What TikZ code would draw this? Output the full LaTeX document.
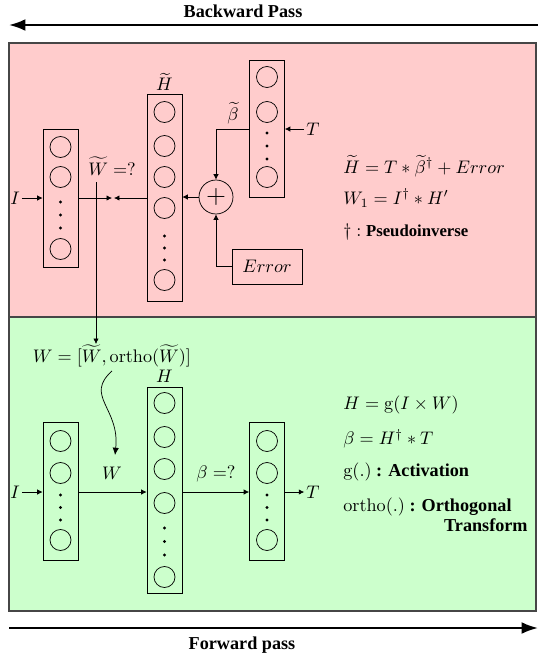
\documentclass[tikz,border=0pt]{standalone}
\usepackage[no-math]{fontspec}
\setmainfont{Liberation Serif}
\usetikzlibrary{arrows.meta}
\def\pu{0.55pt}
\definecolor{pinkbg}{RGB}{255,204,204}
\definecolor{greenbg}{RGB}{204,255,204}
\definecolor{frame}{RGB}{70,70,70}
\begin{document}
\begin{tikzpicture}[x=0.55pt,y=-0.55pt,
  colbox/.style={draw, minimum width=35*\pu, inner sep=0},
  neuron/.style={circle, draw, minimum size=21*\pu, inner sep=0},
  dotn/.style={circle, fill, minimum size=3.2*\pu, inner sep=0},
  arr/.style={-{Latex[length=3pt,width=3pt]}},
  bigarr/.style={line width=1.2pt,-{Latex[length=9pt,width=6.5pt]}},
  lab/.style={inner sep=1pt},
  side/.style={anchor=west, inner sep=0}]
\useasboundingbox (0,0) rectangle (538,660);
% background panels
\filldraw[fill=pinkbg, draw=frame, line width=0.6pt] (9,43) rectangle (536,317);
\filldraw[fill=greenbg, draw=frame, line width=0.6pt] (9,317) rectangle (536,611);
% top/bottom arrows
\node (bwt) at (243,11) {\textbf{Backward Pass}};
\coordinate (bwR) at (538,25);
\coordinate (bwL) at (9,25);
\draw[bigarr] (bwR) -- (bwL);
\node (fwt) at (242,645) {\textbf{Forward pass}};
\coordinate (fwL) at (9,628);
\coordinate (fwR) at (538,628);
\draw[bigarr] (fwL) -- (fwR);

% ===== pink (backward) =====
\node[colbox, minimum height=138*\pu] (inP) at (60.5,198) {};
\node[neuron] (inP1) at (60.5,147) {};
\node[neuron] (inP2) at (60.5,177) {};
\node[dotn] (inPd1) at (60.5,202) {};
\node[dotn] (inPd2) at (60.5,215) {};
\node[dotn] (inPd3) at (60.5,228) {};
\node[neuron] (inP3) at (60.5,249) {};

\node[colbox, minimum height=207*\pu] (HtP) at (164.5,197.5) {};
\node[neuron] (HtP1) at (164.5,112) {};
\node[neuron] (HtP2) at (164.5,146) {};
\node[neuron] (HtP3) at (164.5,177) {};
\node[neuron] (HtP4) at (164.5,208) {};
\node[dotn] (HtPd1) at (164.5,236) {};
\node[dotn] (HtPd2) at (164.5,248) {};
\node[dotn] (HtPd3) at (164.5,260) {};
\node[neuron] (HtP5) at (164.5,280) {};
\node[lab] (HtLab) at (164.5,82) {$\widetilde{H}$};

\node[colbox, minimum height=137*\pu] (outP) at (267,128.5) {};
\node[neuron] (outP1) at (267,77) {};
\node[neuron] (outP2) at (267,112) {};
\node[dotn] (outPd1) at (267,133) {};
\node[dotn] (outPd2) at (267,146) {};
\node[dotn] (outPd3) at (267,159) {};
\node[neuron] (outP3) at (267,177) {};

\node[circle, draw, minimum size=34*\pu, inner sep=0] (plus) at (216,197) {\Large$+$};
\node[draw, minimum width=70*\pu, minimum height=35*\pu, inner sep=0] (err) at (267,266.5) {$Error$};

\node[lab] (IP) at (15,198) {$I$};
\node[lab] (TP) at (313,129) {$T$};
\node[lab] (btLab) at (233,113) {$\widetilde{\beta}$};
\node[lab] (WtLab) at (112,166) {$\widetilde{W}=?$};

\coordinate (m1) at (112,198);
\coordinate (m2) at (114,198);
\draw[arr] (IP) -- (inP.west|-IP);
\draw[arr] (inP.east|-m1) -- (m1);
\draw[arr] (HtP.west|-m2) -- (m2);
\draw[arr] (plus.west) -- (HtP.east|-plus);
\draw[arr] (TP) -- (outP.east|-TP);
\draw[arr] (outP.west|-TP) -| (plus.north);
\draw[arr] (err.west) -| (plus.south);

\node[side] (eq1) at (343,166) {$\widetilde{H}=T*\widetilde{\beta}^{\dagger}+Error$};
\node[side] (eq2) at (343,198) {$W_1=I^{\dagger}*H'$};
\node[side] (eq3) at (343,232) {$\dagger :$ {\fontsize{9.2}{11}\selectfont\textbf{Pseudoinverse}}};

% ===== green (forward) =====
\node[lab] (Wform) at (112,356) {$W=[\widetilde{W},\mathrm{ortho}(\widetilde{W})]$};
\coordinate (wdown0) at (96,182);
\coordinate (wdown1) at (96,344);
\draw[arr] (wdown0) -- (wdown1);
\coordinate (cv0) at (112,371);
\coordinate (cv1) at (115,455);
\draw[-{Latex[length=4pt,width=3.5pt]}] (cv0) .. controls (84,396) and (120,408) .. (cv1);

\node[colbox, minimum height=138*\pu] (inG) at (60.5,491) {};
\node[neuron] (inG1) at (60.5,441) {};
\node[neuron] (inG2) at (60.5,473) {};
\node[dotn] (inGd1) at (60.5,495) {};
\node[dotn] (inGd2) at (60.5,507.5) {};
\node[dotn] (inGd3) at (60.5,520) {};
\node[neuron] (inG3) at (60.5,540) {};

\node[colbox, minimum height=206*\pu] (HG) at (164.5,490) {};
\node[neuron] (HG1) at (164.5,403) {};
\node[neuron] (HG2) at (164.5,437) {};
\node[neuron] (HG3) at (164.5,469) {};
\node[neuron] (HG4) at (164.5,503) {};
\node[dotn] (HGd1) at (164.5,528) {};
\node[dotn] (HGd2) at (164.5,541.5) {};
\node[dotn] (HGd3) at (164.5,555) {};
\node[neuron] (HG5) at (164.5,577) {};
\node[lab] (HLab) at (164.5,376) {$H$};

\node[colbox, minimum height=138*\pu] (outG) at (267,491) {};
\node[neuron] (outG1) at (267,441) {};
\node[neuron] (outG2) at (267,473) {};
\node[dotn] (outGd1) at (267,495) {};
\node[dotn] (outGd2) at (267,507.5) {};
\node[dotn] (outGd3) at (267,520) {};
\node[neuron] (outG3) at (267,540) {};

\node[lab] (IG) at (15,492) {$I$};
\node[lab] (TG) at (313,492) {$T$};
\node[lab] (WLab) at (112,473) {$W$};
\node[lab] (bLab) at (216,474) {$\beta=?$};

\draw[arr] (IG) -- (inG.west|-IG);
\draw[arr] (inG.east|-IG) -- (HG.west|-IG);
\draw[arr] (HG.east|-IG) -- (outG.west|-IG);
\draw[arr] (outG.east|-IG) -- (TG);

\node[side] (geq1) at (343,405) {$H=\mathrm{g}(I\times W)$};
\node[side] (geq2) at (343,439) {$\beta=H^{\dagger}*T$};
\node[side] (geq3) at (343,472) {$\mathrm{g}(.)$ \textbf{: Activation}};
\node[side] (geq4) at (343,507) {$\mathrm{ortho}(.)$ \textbf{: Orthogonal}};
\node[anchor=east, inner sep=0] (geq5) at (528,525) {\textbf{Transform}};
\end{tikzpicture}
\end{document}
